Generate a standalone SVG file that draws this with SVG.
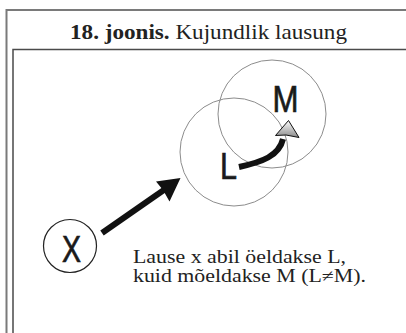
<svg xmlns="http://www.w3.org/2000/svg" width="406" height="333" viewBox="0 0 406 333">
  <defs>
    <linearGradient id="headFill" x1="0" y1="0" x2="0" y2="1">
      <stop offset="0" stop-color="#ffffff"/>
      <stop offset="1" stop-color="#8a8a8a"/>
    </linearGradient>
    <style>
      .frame-outer { fill: none; stroke: #7a7a7a; stroke-width: 2; }
      .frame-inner { fill: none; stroke: #4a4a4a; stroke-width: 1.5; }
      .title { font-family: "Liberation Serif", serif; font-size: 21px; fill: #222; }
      .title .num { font-weight: bold; }
      .big-ring { fill: none; stroke: #8c8c8c; stroke-width: 1; }
      .small-ring { fill: none; stroke: #222; stroke-width: 1.2; }
      .letter { font-family: "Liberation Sans", sans-serif; font-size: 36px; fill: #1a1a1a; stroke: #1a1a1a; stroke-width: 0.7; text-anchor: middle; }
      .shaft { fill: none; stroke: #111; stroke-width: 6; }
      .caption { font-family: "Liberation Serif", serif; font-size: 18px; fill: #222; }
    </style>
  </defs>

  <!-- page frames -->
  <g id="frame">
    <polyline class="frame-outer" points="6.5,333 6.5,10 406,10"/>
    <polyline class="frame-inner" points="13,333 13,49.5 406,49.5"/>
  </g>

  <!-- heading -->
  <g id="title">
    <text class="title" x="70" y="38.5" textLength="277" lengthAdjust="spacingAndGlyphs"><tspan class="num">18. joonis.</tspan> Kujundlik lausung</text>
  </g>

  <!-- nodes -->
  <g id="node-L">
    <circle class="big-ring" cx="234" cy="152" r="54"/>
    <text class="letter" x="228.5" y="179" textLength="17" lengthAdjust="spacingAndGlyphs">L</text>
  </g>
  <g id="node-M">
    <circle class="big-ring" cx="272" cy="114" r="54"/>
    <text class="letter" x="285.5" y="112" textLength="26" lengthAdjust="spacingAndGlyphs">M</text>
  </g>
  <g id="node-X">
    <circle class="small-ring" cx="70" cy="246" r="26.5"/>
    <text class="letter" x="71.5" y="261.5" font-size="42" textLength="19" lengthAdjust="spacingAndGlyphs">X</text>
  </g>

  <!-- connectors -->
  <g id="connectors">
    <path class="shaft" d="M102,233 L166,188.5"/>
    <polygon points="180.5,178 156,181.5 163,190 169.5,201.5" fill="#111"/>
    <path class="shaft" d="M239,167 C262,162 279,156 283,139"/>
    <polygon points="288.5,120.5 299,137.5 286,135 275.5,135.5" fill="url(#headFill)" stroke="#111" stroke-width="1" stroke-linejoin="round"/>
  </g>

  <!-- explanation -->
  <g id="caption">
    <text class="caption" x="133" y="263" textLength="213" lengthAdjust="spacingAndGlyphs">Lause x abil öeldakse L,</text>
    <text class="caption" x="133" y="282" textLength="233" lengthAdjust="spacingAndGlyphs">kuid mõeldakse M (L≠M).</text>
  </g>
</svg>
